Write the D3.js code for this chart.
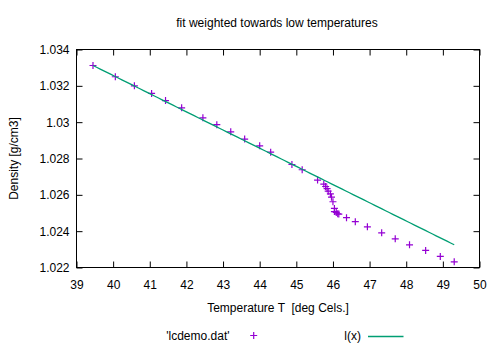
<!DOCTYPE html>
<html>
<head>
<meta charset="utf-8">
<script src="https://cdn.jsdelivr.net/npm/d3@7"></script>
<style>
  html, body { margin: 0; padding: 0; background: #fff; }
  svg { display: block; }
  text { font-family: "Liberation Sans", Arial, sans-serif; font-size: 12px; fill: #000; }
</style>
</head>
<body>
<svg id="chart" width="500" height="350"></svg>
<script>
// Liquid crystal density measurements
const temperature = [
  39.45, 40.06, 40.58, 41.05, 41.43, 41.87, 42.45, 42.83, 43.21, 43.59,
  44.00, 44.30, 44.88, 45.16, 45.58, 45.75, 45.80, 45.84, 45.87, 45.93,
  45.96, 46.00, 46.04, 46.04, 46.09, 46.13, 46.16, 46.37, 46.61, 46.94,
  47.33, 47.70, 48.09, 48.53, 48.93, 49.31
];
const density = [
  1.03312, 1.03250, 1.03200, 1.03158, 1.03119, 1.03079, 1.03024, 1.02986, 1.02947, 1.02907,
  1.02870, 1.02835, 1.02767, 1.02738, 1.02681, 1.02659, 1.02646, 1.02634, 1.02620, 1.02605,
  1.02587, 1.02562, 1.02525, 1.02508, 1.02503, 1.02496, 1.02494, 1.02474, 1.02452, 1.02424,
  1.02391, 1.02358, 1.02325, 1.02294, 1.02261, 1.02231
];

// Weighted linear fit l(x) = a + b*x
const fitIntercept = 1.07261;
const fitSlope = -0.001001;

const xTicks = [39, 40, 41, 42, 43, 44, 45, 46, 47, 48, 49, 50];
const yTicks = [1.022, 1.024, 1.026, 1.028, 1.030, 1.032, 1.034];
const yTickLabels = ["1.022", "1.024", "1.026", "1.028", "1.03", "1.032", "1.034"];

const svg = d3.select("#chart");
svg.append("rect").attr("width", 500).attr("height", 350).attr("fill", "#fff");

const plotLeft = 76.5, plotRight = 479.5, plotTop = 49.5, plotBottom = 267.5;
const x = d3.scaleLinear().domain([39, 50]).range([plotLeft, plotRight]);
const y = d3.scaleLinear().domain([1.022, 1.034]).range([plotBottom, plotTop]);

const tickLen = 6;

function styleAxis(g) {
  g.select(".domain").remove();
  g.selectAll(".tick line").attr("stroke", "#000").attr("stroke-width", 1);
  g.selectAll(".tick text")
    .style("font-family", "'Liberation Sans', Arial, sans-serif")
    .style("font-size", "12px")
    .attr("fill", "#000");
}

// bottom axis with labels
svg.append("g")
  .attr("transform", `translate(0,${plotBottom})`)
  .call(d3.axisBottom(x).tickValues(xTicks).tickFormat(d3.format("d"))
    .tickSizeInner(-tickLen).tickSizeOuter(0).tickPadding(13))
  .call(styleAxis);

// top mirror ticks
svg.append("g")
  .attr("transform", `translate(0,${plotTop})`)
  .call(d3.axisTop(x).tickValues(xTicks).tickFormat("")
    .tickSizeInner(-tickLen).tickSizeOuter(0))
  .call(styleAxis);

// left axis with labels
svg.append("g")
  .attr("transform", `translate(${plotLeft},0)`)
  .call(d3.axisLeft(y).tickValues(yTicks).tickFormat((d, i) => yTickLabels[i])
    .tickSizeInner(-tickLen).tickSizeOuter(0).tickPadding(7))
  .call(styleAxis);

// right mirror ticks
svg.append("g")
  .attr("transform", `translate(${plotRight},0)`)
  .call(d3.axisRight(y).tickValues(yTicks).tickFormat("")
    .tickSizeInner(-tickLen).tickSizeOuter(0))
  .call(styleAxis);

// plot border
svg.append("rect")
  .attr("x", plotLeft).attr("y", plotTop)
  .attr("width", plotRight - plotLeft).attr("height", plotBottom - plotTop)
  .attr("fill", "none").attr("stroke", "#000").attr("stroke-width", 1);

const pointColor = "#9400d3";
const lineColor = "#009e73";
const arm = 3.5;

function plus(g, cx, cy) {
  g.append("path")
    .attr("d", `M${cx - arm},${cy}H${cx + arm}M${cx},${cy - arm}V${cy + arm}`)
    .attr("stroke", pointColor).attr("stroke-width", 1.2).attr("fill", "none");
}

// data points
const pts = svg.append("g");
temperature.forEach((t, i) => plus(pts, x(t), y(density[i])));

// fitted line over the sampled data range
const [tMin, tMax] = d3.extent(temperature);
const samples = d3.range(0, 101).map(k => tMin + (tMax - tMin) * k / 100);
svg.append("path")
  .datum(samples)
  .attr("d", d3.line().x(t => x(t)).y(t => y(fitIntercept + fitSlope * t)))
  .attr("fill", "none").attr("stroke", lineColor).attr("stroke-width", 1.3);

// title and axis labels
svg.append("text").attr("x", 277).attr("y", 27).attr("text-anchor", "middle")
  .text("fit weighted towards low temperatures");

svg.append("text").attr("x", 278).attr("y", 312).attr("text-anchor", "middle")
  .attr("xml:space", "preserve").style("white-space", "pre")
  .text("Temperature T  [deg Cels.]");

svg.append("text")
  .attr("transform", `translate(18,${(plotTop + plotBottom) / 2}) rotate(-90)`)
  .attr("text-anchor", "middle")
  .text("Density [g/cm3]");

// key
svg.append("text").attr("x", 229.5).attr("y", 339.5).attr("text-anchor", "end")
  .text("'lcdemo.dat'");
plus(svg, 253.7, 335.5);

svg.append("text").attr("x", 361).attr("y", 339.5).attr("text-anchor", "end")
  .text("l(x)");
svg.append("line").attr("x1", 368).attr("x2", 403.5).attr("y1", 336.5).attr("y2", 336.5)
  .attr("stroke", lineColor).attr("stroke-width", 1.3);
</script>
</body>
</html>
